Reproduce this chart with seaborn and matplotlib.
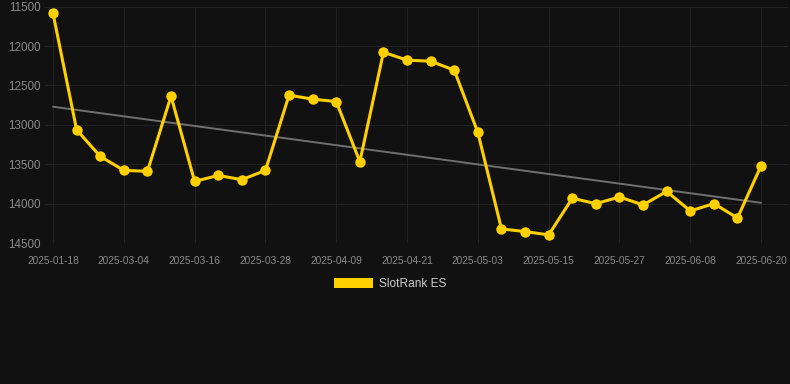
import matplotlib
matplotlib.use("Agg")
import matplotlib.pyplot as plt
import seaborn as sns
import pandas as pd
import numpy as np
from matplotlib.patches import Patch

dates = [
    "2025-01-18", "2025-02-24", "2025-02-28", "2025-03-04", "2025-03-08", "2025-03-12",
    "2025-03-16", "2025-03-20", "2025-03-24", "2025-03-28", "2025-04-01", "2025-04-05",
    "2025-04-09", "2025-04-13", "2025-04-17", "2025-04-21", "2025-04-25", "2025-04-29",
    "2025-05-03", "2025-05-07", "2025-05-11", "2025-05-15", "2025-05-19", "2025-05-23",
    "2025-05-27", "2025-05-31", "2025-06-04", "2025-06-08", "2025-06-12", "2025-06-16",
    "2025-06-20",
]
rank = [
    11585, 13063, 13400, 13578, 13590, 12636,
    13718, 13642, 13696, 13578, 12623, 12674,
    12704, 13468, 12078, 12179, 12192, 12306,
    13097, 14321, 14355, 14397, 13933, 14000,
    13916, 14017, 13845, 14093, 14000, 14182,
    13519,
]
trend_start = 12770
trend_end = 13990
series_name = "SlotRank ES"
y_ticks = [11500, 12000, 12500, 13000, 13500, 14000, 14500]

BG = "#111111"
GRID = "#222222"
TXT = "#8a8a8a"
GOLD = "#FFD000"

sns.set_theme(style="dark")
plt.rcParams["font.family"] = ["Liberation Sans", "DejaVu Sans"]

df = pd.DataFrame({"i": np.arange(len(dates)), "date": dates, "rank": rank})
trend_df = pd.DataFrame({"i": [0, len(dates) - 1], "v": [trend_start, trend_end]})

fig = plt.figure(figsize=(7.9, 3.84), dpi=100, facecolor=BG)
ax = fig.add_axes([45 / 790, 1 - 243 / 384, (788 - 45) / 790, (243 - 6.7) / 384])
ax.set_facecolor(BG)

sns.lineplot(data=trend_df, x="i", y="v", ax=ax, color="#707070", linewidth=1.4, zorder=2)
sns.lineplot(data=df, x="i", y="rank", ax=ax, color=GOLD, linewidth=2.2,
             marker="o", markersize=7.5, markeredgewidth=0, zorder=3)

ax.set_ylim(14500, 11500)
ax.set_xlim(-0.34, 31.14)
ax.set_yticks(y_ticks)
ax.set_yticklabels([str(v) for v in y_ticks])
tick_idx = list(range(0, len(dates), 3))
ax.set_xticks(tick_idx)
ax.set_xticklabels([dates[i] for i in tick_idx])
ax.set_xlabel("")
ax.set_ylabel("")

ax.grid(True, color=GRID, linewidth=0.8)
ax.tick_params(axis="x", colors=GRID, labelcolor=TXT, labelsize=7.3, length=4, width=0.8, pad=5)
ax.tick_params(axis="y", colors=GRID, labelcolor=TXT, labelsize=8.4, length=0, pad=3)
for s in ax.spines.values():
    s.set_visible(False)
if ax.get_legend():
    ax.get_legend().remove()

handle = Patch(facecolor=GOLD, edgecolor="none")
leg = fig.legend([handle], [series_name], loc="center", bbox_to_anchor=(0.494, 1 - 284 / 384),
                 frameon=False, fontsize=8.6, labelcolor="#cccccc",
                 handlelength=3.3, handleheight=1.0, handletextpad=0.5)

fig.savefig("out.png", dpi=100, facecolor=BG)
